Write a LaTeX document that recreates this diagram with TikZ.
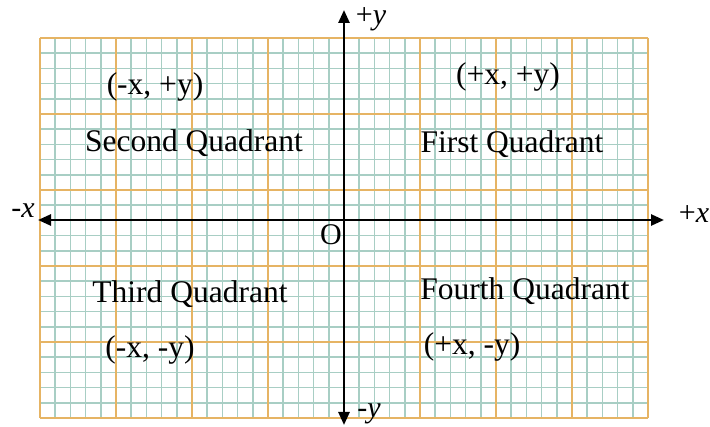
\documentclass[tikz,border=0pt]{standalone}
\usepackage{fontspec}
\setmainfont{Liberation Serif}
\usetikzlibrary{arrows.meta}
\definecolor{gridminor}{RGB}{168,206,196}
\definecolor{gridmajor}{RGB}{230,180,100}

\begin{document}
\begin{tikzpicture}[
    x=1pt, y=-1pt,
    minorline/.style={gridminor, line width=1.7pt},
    majorline/.style={gridmajor, line width=2pt},
    axis/.style     ={{Triangle[length=13pt,width=11pt]}-{Triangle[length=13pt,width=11pt]}, line width=2.6pt, black},
    quad/.style     ={anchor=base, inner sep=0pt, font=\fontsize{31.5}{36}\selectfont},
    axlabel/.style  ={anchor=base, inner sep=0pt, font=\fontsize{30}{34}\selectfont},
  ]
  \useasboundingbox (0,0) rectangle (710,427);
  % graph paper: 40 x 25 small squares, heavier line every 5
  \foreach \i in {0,...,40} \draw[minorline] ({40+15.2*\i},38) -- ({40+15.2*\i},418);
  \foreach \j in {0,...,25} \draw[minorline] (40,{38+15.2*\j}) -- (648,{38+15.2*\j});
  \foreach \i in {0,...,8} \draw[majorline] ({40+76*\i},38) -- ({40+76*\i},418);
  \foreach \j in {0,...,5} \draw[majorline] (40,{38+76*\j}) -- (648,{38+76*\j});
  % axis ends
  \coordinate (x-neg) at (38,220);
  \coordinate (x-pos) at (664,220);
  \coordinate (y-pos) at (344,10);
  \coordinate (y-neg) at (344,425);
  \draw[axis] (x-neg) -- (x-pos);
  \draw[axis] (y-neg) -- (y-pos);
  % axis labels
  \node[axlabel] (lbl-xneg) at (23,218)  {-\textit{x}};
  \node[axlabel] (lbl-xpos) at (694,223) {+\textit{x}};
  \node[axlabel] (lbl-ypos) at (371,25)  {+\textit{y}};
  \node[axlabel] (lbl-yneg) at (369,418) {-\textit{y}};
  \node[axlabel] (origin)   at (331,245) {O};
  % quadrants
  \node[quad] (q2-sign) at (155,95)  {(-x, +y)};
  \node[quad] (q2-name) at (194,152) {Second Quadrant};
  \node[quad] (q1-sign) at (508,85)  {(+x, +y)};
  \node[quad] (q1-name) at (512,153) {First Quadrant};
  \node[quad] (q3-name) at (190,303) {Third Quadrant};
  \node[quad] (q3-sign) at (150,358) {(-x, -y)};
  \node[quad] (q4-name) at (525,300) {Fourth Quadrant};
  \node[quad] (q4-sign) at (472,355) {(+x, -y)};
\end{tikzpicture}
\end{document}
